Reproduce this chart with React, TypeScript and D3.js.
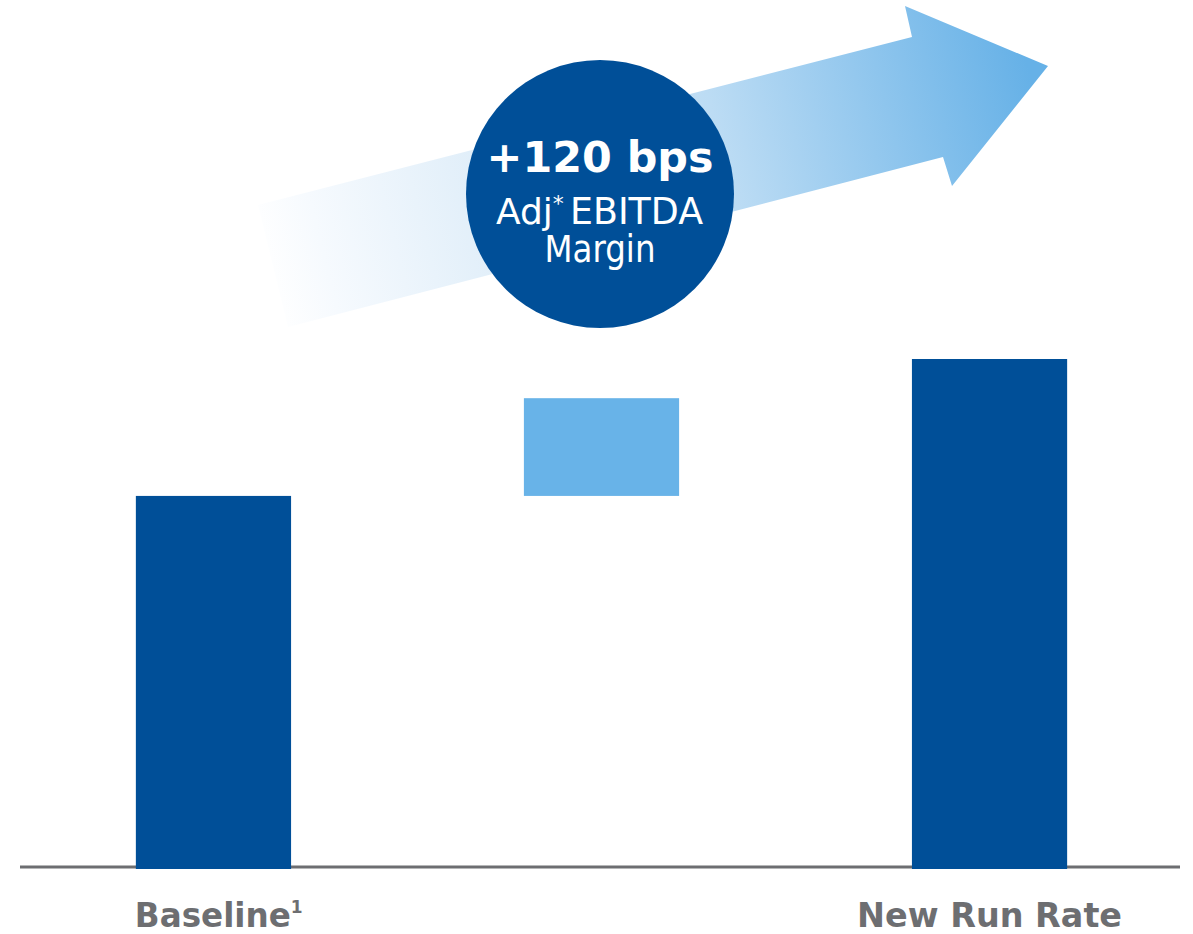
import React from "react";
import * as d3 from "d3";

// Bar categories and values (relative units, axis at 0)
const categories = ["Baseline", "Step", "New Run Rate"];
const barStart = [0, 7.31, 0];
const barEnd = [7.31, 9.23, 10];
const barColors = ["#004F98", "#68B3E8", "#004F98"];
const axisLabels = ["Baseline", "", "New Run Rate"];
const labelSup = ["1", "", ""];

// Headline bubble text
const bubbleLines = ["+120 bps", "Adj", "EBITDA", "Margin"];

const W = 1193;
const H = 934;

export default function App() {
  const x = d3
    .scaleBand<string>()
    .domain(categories)
    .range([21, 1182])
    .paddingInner(0.6)
    .paddingOuter(0.296);
  const y = d3.scaleLinear().domain([0, 10]).range([868, 359]);

  // Trend arrow outline
  const arrowPts: [number, number][] = [
    [258, 205],
    [912, 37],
    [905, 6],
    [1048, 66],
    [952, 186],
    [943, 157],
    [288, 327],
  ];
  const arrowPath = d3.line()(arrowPts) + "Z";

  const cx = 600;
  const cy = 194;
  const r = 134;

  return (
    <svg
      width={W}
      height={H}
      style={{ position: "absolute", left: 0, top: 0, background: "#fff" }}
    >
      <defs>
        <linearGradient
          id="arrowGrad"
          gradientUnits="userSpaceOnUse"
          x1={262}
          y1={270}
          x2={1030}
          y2={75}
        >
          <stop offset="0" stopColor="#ffffff" />
          <stop offset="0.08" stopColor="#f6fafe" />
          <stop offset="0.3" stopColor="#e0eef9" />
          <stop offset="0.6" stopColor="#bcdcf4" />
          <stop offset="1" stopColor="#66b1e7" />
        </linearGradient>
      </defs>

      <path d={arrowPath} fill="url(#arrowGrad)" />

      {/* axis baseline */}
      <line x1={20} x2={1180} y1={867} y2={867} stroke="#6d6e71" strokeWidth={3} />

      {categories.map((c, i) => (
        <rect
          key={c}
          x={x(c)}
          width={x.bandwidth()}
          y={y(barEnd[i])}
          height={y(barStart[i]) - y(barEnd[i]) + (barStart[i] === 0 ? 1 : 0)}
          fill={barColors[i]}
        />
      ))}

      {categories.map((c, i) =>
        axisLabels[i] ? (
          <text
            key={"l" + c}
            x={i === 0 ? x(c)! - 1 : x(c)! + x.bandwidth() / 2}
            y={927}
            textAnchor={i === 0 ? "start" : "middle"}
            fontFamily="DejaVu Sans"
            fontWeight="bold"
            fontSize={33}
            fill="#6d6e71"
          >
            <tspan textLength={i === 0 ? 156 : 265} lengthAdjust="spacingAndGlyphs">
              {axisLabels[i]}
            </tspan>
            {labelSup[i] ? (
              <tspan fontSize={17} dy={-14} dx={0}>
                {labelSup[i]}
              </tspan>
            ) : null}
          </text>
        ) : null
      )}

      <circle cx={cx} cy={cy} r={r} fill="#004F98" />
      <text
        x={cx}
        y={172}
        textAnchor="middle"
        fontFamily="DejaVu Sans"
        fontWeight="bold"
        fontSize={43}
        fill="#fff"
        textLength={227}
        lengthAdjust="spacingAndGlyphs"
      >
        {bubbleLines[0]}
      </text>
      <text x={496} y={224} fontFamily="DejaVu Sans" fontSize={36} fill="#fff">
        {bubbleLines[1]}
        <tspan fontSize={22} dy={-13}>*</tspan>
      </text>
      <text
        x={570}
        y={224}
        fontFamily="DejaVu Sans"
        fontSize={37}
        fill="#fff"
        textLength={133}
        lengthAdjust="spacingAndGlyphs"
      >
        {bubbleLines[2]}
      </text>
      <text
        x={cx}
        y={262}
        textAnchor="middle"
        fontFamily="DejaVu Sans"
        fontSize={37}
        fill="#fff"
        textLength={111}
        lengthAdjust="spacingAndGlyphs"
      >
        {bubbleLines[3]}
      </text>
    </svg>
  );
}
